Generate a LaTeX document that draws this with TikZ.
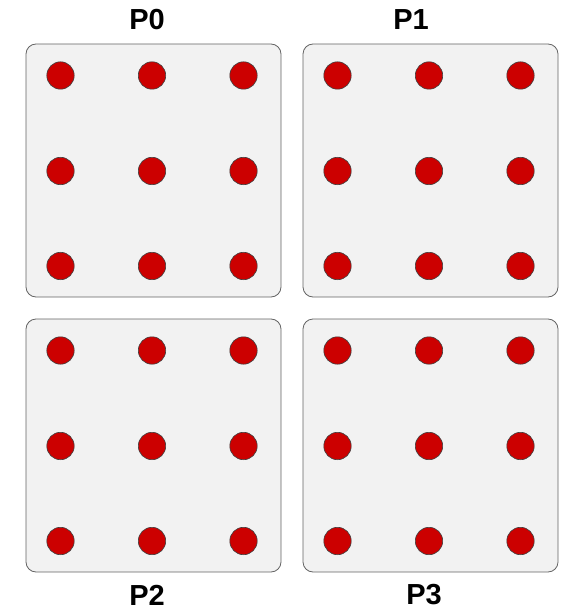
\documentclass[tikz,border=0pt]{standalone}
\usepackage{fontspec}
\setmainfont{Liberation Sans}
\definecolor{BoxFill}{RGB}{242,242,242}
\definecolor{BoxLine}{RGB}{100,100,100}
\definecolor{DotRed}{RGB}{204,0,0}
\usetikzlibrary{positioning}

\tikzset{
  cellbox/.style={draw=BoxLine,fill=BoxFill,line width=0.8pt,rounded corners=10pt,
    minimum width=255pt,minimum height=253pt,inner sep=0pt},
  procdot/.style={circle,draw=black!75,fill=DotRed,line width=0.6pt,minimum size=27.4pt,inner sep=0pt},
  plabel/.style={font=\fontsize{29}{32}\selectfont\bfseries,inner sep=0.5pt}
}

\begin{document}
\begin{tikzpicture}[x=1pt,y=-1pt]
  \useasboundingbox (0,0) rectangle (567,612);
  % four processor blocks, 3x3 points each
  \foreach \b/\cx/\cy in {0/153.5/170.5,1/430.5/170.5,2/153.5/445.5,3/430.5/445.5} {
    \node[cellbox] (box\b) at (\cx,\cy) {};
    \foreach \c/\dx in {1/-93,2/-1.5,3/90} {
      \foreach \r/\dy in {1/-95,2/0.5,3/95.5} {
        \node[procdot] (dot\b-\r-\c) at ([shift={(\dx,\dy)}]box\b.center) {};
      }
    }
  }
  \node[plabel] (lab0) at (147,20) {P0};
  \node[plabel] (lab1) at (411,20) {P1};
  \node[plabel] (lab2) at (147,595) {P2};
  \node[plabel] (lab3) at (424,595) {P3};
\end{tikzpicture}
\end{document}
